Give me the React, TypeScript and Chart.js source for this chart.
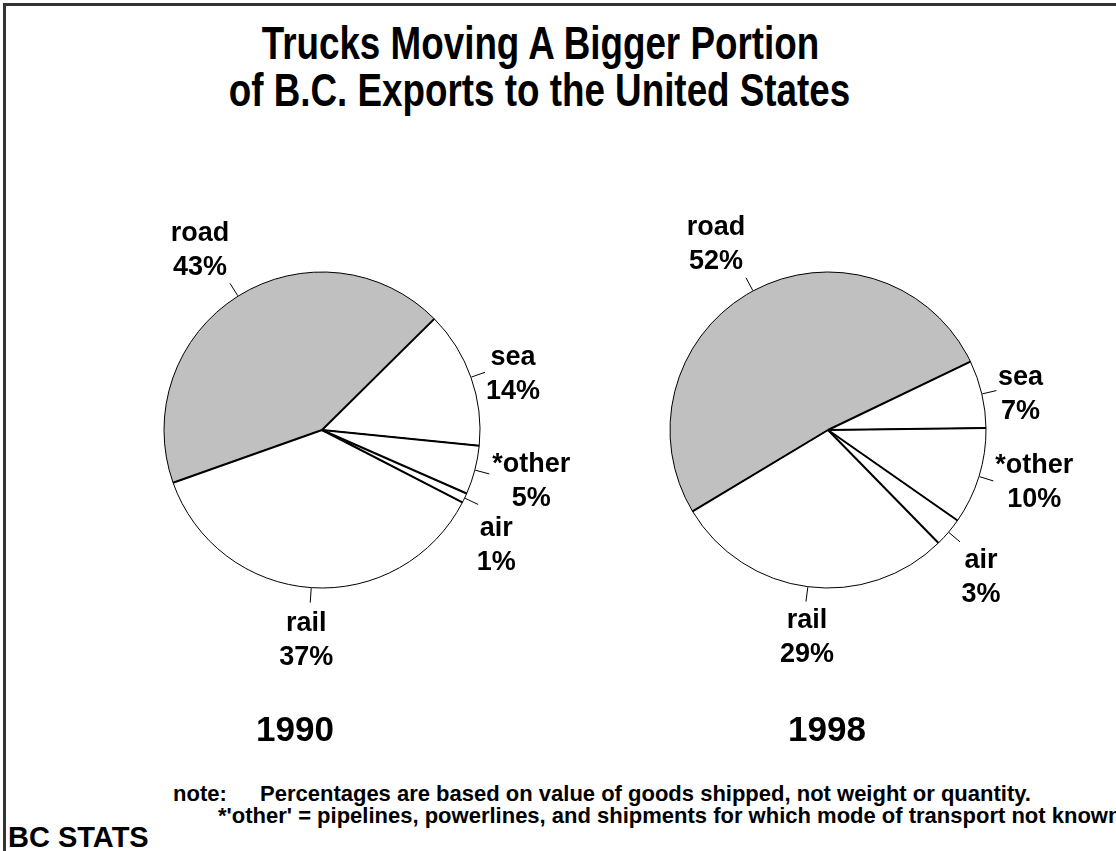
import React, { useEffect, useRef } from "react";
import { Chart, registerables } from "chart.js";

Chart.register(...registerables);

// ---------- data ----------
const categories = ["road", "sea", "*other", "air", "rail"];
const values1990 = [43, 14, 5, 1, 37];
const values1998 = [52, 7, 10, 3, 29];
const years = ["1990", "1998"];
const titleLines = ["Trucks Moving A Bigger Portion", "of B.C. Exports to the United States"];
const noteLabel = "note:";
const noteLines = [
  "Percentages are based on value of goods shipped, not weight or quantity.",
  "*'other' = pipelines, powerlines, and shipments for which mode of transport not known",
];
const sourceText = "BC STATS";

// ---------- styles ----------
const sliceColors = ["#c0c0c0", "#ffffff", "#ffffff", "#ffffff", "#ffffff"];
const labelOffsets1990 = [[-30, -42], [28, -7], [42, -2], [18, 32], [-4, 28]];
const labelOffsets1998 = [[-30, -43], [24, -6], [41, -8], [21, 26], [1, 26]];
const FONT = "'Liberation Sans', Arial, Helvetica, sans-serif";

const pieDecor = {
  id: "pieDecor",
  afterDatasetsDraw(chart: any, _args: any, opts: any) {
    const ctx = chart.ctx as CanvasRenderingContext2D;
    const meta = chart.getDatasetMeta(0);
    const ds = chart.data.datasets[0];
    ctx.save();
    ctx.strokeStyle = "#000";
    ctx.lineCap = "butt";
    // radial separators (heavier than rim)
    ctx.lineWidth = 2;
    meta.data.forEach((arc: any) => {
      const p = arc.getProps(["x", "y", "startAngle", "outerRadius"], true);
      ctx.beginPath();
      ctx.moveTo(p.x, p.y);
      ctx.lineTo(p.x + Math.cos(p.startAngle) * p.outerRadius, p.y + Math.sin(p.startAngle) * p.outerRadius);
      ctx.stroke();
    });
    // leader lines + labels
    meta.data.forEach((arc: any, i: number) => {
      const p = arc.getProps(["x", "y", "startAngle", "endAngle", "outerRadius"], true);
      const mid = (p.startAngle + p.endAngle) / 2;
      const r0 = p.outerRadius + 0.5;
      const r1 = p.outerRadius + 15;
      ctx.lineWidth = 1;
      ctx.beginPath();
      ctx.moveTo(p.x + Math.cos(mid) * r0, p.y + Math.sin(mid) * r0);
      ctx.lineTo(p.x + Math.cos(mid) * r1, p.y + Math.sin(mid) * r1);
      ctx.stroke();
      const ex = p.x + Math.cos(mid) * r1;
      const ey = p.y + Math.sin(mid) * r1;
      const [dx, dy] = opts.offsets[i];
      ctx.fillStyle = "#000";
      ctx.font = `bold 27px ${FONT}`;
      ctx.textAlign = "center";
      ctx.textBaseline = "alphabetic";
      ctx.fillText(String(chart.data.labels[i]), ex + dx, ey + dy);
      ctx.fillText(`${ds.data[i]}%`, ex + dx, ey + dy + 34);
    });
    ctx.restore();
  },
};

function PieChart(props: { values: number[]; offsets: number[][]; rotation: number; cx: number; cy: number }) {
  const ref = useRef<HTMLCanvasElement>(null);
  const size = 560;
  useEffect(() => {
    const chart = new Chart(ref.current as HTMLCanvasElement, {
      type: "pie",
      data: {
        labels: categories,
        datasets: [
          {
            data: props.values,
            backgroundColor: sliceColors,
            borderColor: "#000",
            borderWidth: 1,
            rotation: props.rotation,
          } as any,
        ],
      },
      options: {
        responsive: false,
        maintainAspectRatio: false,
        animation: false,
        events: [],
        radius: 158,
        rotation: props.rotation,
        layout: { padding: 0 },
        plugins: {
          legend: { display: false },
          tooltip: { enabled: false },
          title: { display: false },
          pieDecor: { offsets: props.offsets },
        } as any,
      } as any,
      plugins: [pieDecor as any],
    });
    return () => chart.destroy();
  }, []);
  return (
    <canvas
      ref={ref}
      width={size}
      height={size}
      style={{ position: "absolute", left: props.cx - size / 2, top: props.cy - size / 2, width: size, height: size }}
    />
  );
}

function Txt(props: {
  text: string;
  baseline: number;
  size: number;
  left?: number;
  center?: number;
  sx?: number;
}) {
  const sx = props.sx ?? 1;
  const top = props.baseline - 0.8465 * props.size;
  const centered = props.center !== undefined;
  return (
    <div
      style={{
        position: "absolute",
        top,
        left: centered ? (props.center as number) - 1000 : props.left,
        width: centered ? 2000 : undefined,
        textAlign: centered ? "center" : "left",
        fontFamily: FONT,
        fontWeight: "bold",
        fontSize: props.size,
        lineHeight: `${props.size}px`,
        whiteSpace: "nowrap",
        color: "#000",
      }}
    >
      <span
        style={{
          display: "inline-block",
          transform: `scaleX(${sx})`,
          transformOrigin: centered ? "center" : "left",
        }}
      >
        {props.text}
      </span>
    </div>
  );
}

export default function App() {
  return (
    <div
      style={{
        position: "fixed",
        left: 0,
        top: 0,
        width: 1116,
        height: 851,
        background: "#fff",
        overflow: "hidden",
      }}
    >
      <div
        style={{
          position: "absolute",
          left: 3,
          top: 3,
          width: 1400,
          height: 1100,
          borderLeft: "3px solid #333",
          borderTop: "3px solid #333",
        }}
      />
      <Txt text={titleLines[0]} center={540} baseline={59} size={46} sx={0.8} />
      <Txt text={titleLines[1]} center={539} baseline={106} size={46} sx={0.8} />
      <PieChart values={values1990} offsets={labelOffsets1990} rotation={250.5} cx={322} cy={430} />
      <PieChart values={values1998} offsets={labelOffsets1998} rotation={239} cx={828} cy={430} />
      <Txt text={years[0]} center={295} baseline={741} size={35} />
      <Txt text={years[1]} center={827} baseline={741} size={35} />
      <Txt text={noteLabel} left={173} baseline={802} size={22} />
      <Txt text={noteLines[0]} left={260} baseline={802} size={22} />
      <Txt text={noteLines[1]} left={218} baseline={824} size={22} />
      <Txt text={sourceText} left={8} baseline={848} size={29} />
    </div>
  );
}
